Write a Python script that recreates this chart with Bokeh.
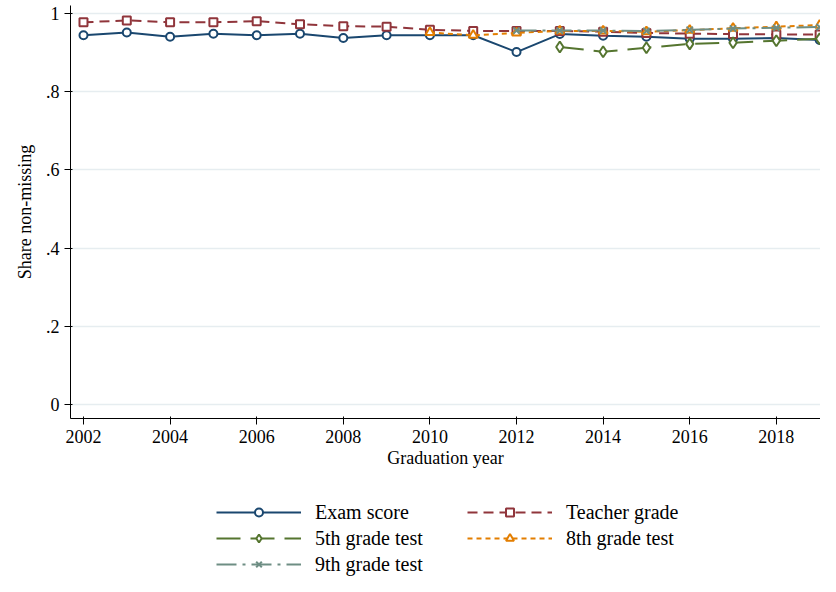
from bokeh.plotting import figure
from bokeh.layouts import column
from bokeh.models import FixedTicker, Legend, LegendItem, Range1d
from bokeh.embed import file_html
from bokeh.resources import INLINE

years = list(range(2002, 2020))
exam = [.944, .951, .940, .948, .944, .948, .937, .944, .944, .944, .901, .947, .943, .940, .935, .935, .937, .932]
teacher = [.977, .982, .977, .977, .980, .972, .967, .966, .958, .955, .955, .955, .953, .950, .948, .947, .946, .946]
y5 = list(range(2013, 2020))
g5 = [.914, .902, .912, .922, .925, .930, .935]
y8 = list(range(2010, 2020))
g8 = [.951, .944, .950, .955, .955, .953, .957, .962, .966, .970]
y9 = list(range(2012, 2020))
g9 = [.956, .956, .956, .955, .958, .961, .963, .965]

FONT = "Liberation Serif"
p = figure(width=820, height=470, output_backend="svg", toolbar_location=None,
           x_range=Range1d(2001.7, 2019.02), y_range=Range1d(-0.035, 1.02),
           min_border_left=70, min_border_right=0, min_border_top=5)
p.outline_line_color = None
p.xgrid.grid_line_color = None
p.ygrid.grid_line_color = "#e6edf0"
p.ygrid.grid_line_width = 1.5

p.xaxis.ticker = FixedTicker(ticks=list(range(2002, 2020, 2)))
p.yaxis.ticker = FixedTicker(ticks=[0, .2, .4, .6, .8, 1])
p.yaxis.major_label_overrides = {0: "0", 0.2: ".2", 0.4: ".4", 0.6: ".6", 0.8: ".8", 1: "1"}
p.yaxis.major_label_orientation = 0
p.xaxis.axis_label = "Graduation year"
p.yaxis.axis_label = "Share non-missing"
for ax in (p.xaxis, p.yaxis):
    ax.axis_label_text_font = FONT
    ax.axis_label_text_font_style = "normal"
    ax.axis_label_text_font_size = "18px"
    ax.major_label_text_font = FONT
    ax.major_label_text_font_size = "18px"
    ax.axis_line_color = "black"
    ax.major_tick_line_color = "black"
    ax.minor_tick_line_color = None
    ax.major_label_text_color = "black"
    ax.axis_label_text_color = "black"
p.xaxis.axis_label_standoff = 2
p.yaxis.axis_label_standoff = 8

# legend lives in its own small figure below the chart
lg = figure(width=820, height=106, output_backend="svg", toolbar_location=None,
            x_range=Range1d(0, 1), y_range=Range1d(0, 1), min_border=0)
lg.axis.visible = False
lg.grid.visible = False
lg.outline_line_color = None

c1, c2, c3, c4, c5 = "#1a476f", "#90353b", "#55752f", "#e37e00", "#6e8e84"
series = [
    ("Exam score", years, exam, c1, None, "circle", 8),
    ("Teacher grade", years, teacher, c2, "10 6", "square", 8),
    ("5th grade test", y5, g5, c3, "24 10", "diamond", 11),
    ("8th grade test", y8, g8, c4, "5 4", "triangle", 9),
    ("9th grade test", y9, g9, c5, "20 6 3 6", "x", 9),
]
items = {}
for name, xs, ys, c, dash, mk, sz in series:
    kw = dict(line_dash=dash) if dash else {}
    p.line(xs, ys, line_color=c, line_width=2, **kw)
    p.scatter(xs, ys, marker=mk, size=sz, fill_color="white", line_color=c, line_width=2)
    r = lg.line([-5, -4], [-5, -4], line_color=c, line_width=2, **kw)
    m = lg.scatter([-5], [-5], marker=mk, size=sz - 1, fill_color="white", line_color=c, line_width=2)
    items[name] = LegendItem(label=name, renderers=[r, m])

order = ["Exam score", "5th grade test", "9th grade test", "Teacher grade", "8th grade test"]
leg = Legend(items=[items[k] for k in order], ncols=2, location=(146, 0),
             label_text_font=FONT, label_text_font_size="20px", label_text_color="black",
             glyph_width=85, border_line_color=None, background_fill_alpha=0,
             spacing=2, padding=4, label_standoff=14, label_width=150, label_height=24)
lg.add_layout(leg, "center")

open("out.html", "w").write(file_html(column(p, lg, spacing=0), INLINE))
